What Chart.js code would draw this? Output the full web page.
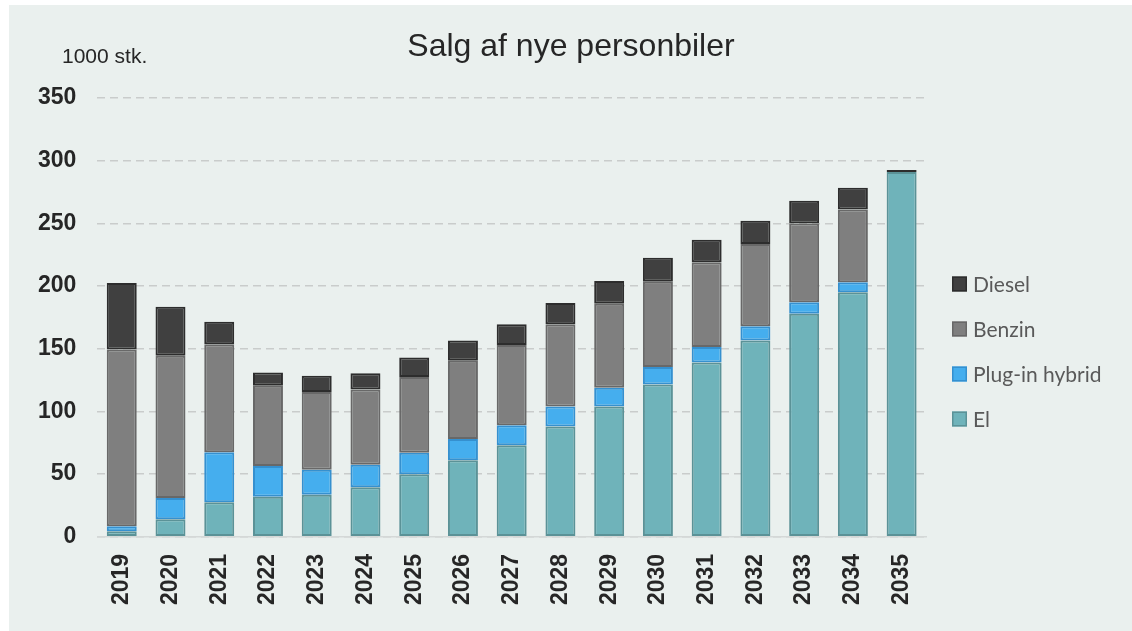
<!DOCTYPE html>
<html lang="da">
<head>
<meta charset="utf-8">
<title>Salg af nye personbiler</title>
<script src="https://cdn.jsdelivr.net/npm/chart.js@4.4.1/dist/chart.umd.min.js"></script>
<style>
    html, body { margin: 0; padding: 0; background: #ffffff; }
    .chart-wrap { position: relative; width: 1132px; height: 631px; }
</style>
</head>
<body>
<div class="chart-wrap">
    <canvas id="salesChart"></canvas>
</div>
<script>
// Data (1000 stk.)
const years = ['2019', '2020', '2021', '2022', '2023', '2024', '2025', '2026', '2027',
    '2028', '2029', '2030', '2031', '2032', '2033', '2034', '2035'];
const el = [4.5, 14, 27.5, 32, 33.5, 39.5, 50, 61, 73, 88, 104, 121.5, 139, 156.5, 178, 195, 291];
const plugInHybrid = [4, 17, 40, 24.5, 20, 18, 17, 17, 16, 16, 15, 14, 12.5, 11.5, 9, 8, 0];
const benzin = [141, 113.5, 86, 64, 62, 60, 60.5, 62.5, 64, 65.5, 67, 68, 67.5, 65.5, 63, 58, 0];
const diesel = [53, 39, 18, 10.5, 13, 13, 15.5, 16, 16.5, 17, 18, 19, 18, 18.5, 18, 17.5, 1.5];
const yTicks = [0, 50, 100, 150, 200, 250, 300, 350];

const unitLabel = '1000 stk.';
const chartTitle = 'Salg af nye personbiler';

document.addEventListener('DOMContentLoaded', () => {
    Chart.defaults.font.family = "'Liberation Sans', Arial, sans-serif";
    Chart.defaults.color = '#262626';

    // Light panel behind the whole chart
    const panelBackground = {
        id: 'panelBackground',
        beforeDraw(chart) {
            const ctx = chart.ctx;
            ctx.save();
            ctx.fillStyle = '#EAF0EE';
            ctx.fillRect(9, 5, chart.width - 9, chart.height - 5);
            ctx.restore();
        }
    };

    // Title, unit label and legend on the right (Diesel first)
    const extras = {
        id: 'extras',
        afterDraw(chart) {
            const ctx = chart.ctx;
            const area = chart.chartArea;
            ctx.save();
            ctx.fillStyle = '#262626';
            ctx.textBaseline = 'alphabetic';
            ctx.textAlign = 'center';
            ctx.font = "32px 'Liberation Sans', Arial, sans-serif";
            ctx.fillText(chartTitle, 571, 56);

            ctx.textAlign = 'left';
            ctx.font = "21px 'Liberation Sans', Arial, sans-serif";
            ctx.fillText(unitLabel, 62, 63);

            const items = chart.data.datasets.slice().reverse();
            ctx.font = "21px Lato, 'Open Sans', sans-serif";
            ctx.textBaseline = 'middle';
            items.forEach((ds, i) => {
                const x = area.right + 26;
                const y = area.top + 186 + i * 45;
                ctx.fillStyle = ds.backgroundColor;
                ctx.fillRect(x, y - 7.5, 15, 15);
                ctx.strokeStyle = ds.borderColor;
                ctx.lineWidth = 1.5;
                ctx.strokeRect(x + 0.75, y - 6.75, 13.5, 13.5);
                ctx.fillStyle = '#595959';
                ctx.fillText(ds.label, x + 21, y + 1);
            });
            ctx.restore();
        }
    };

    const barStyle = {
        borderWidth: 2,
        borderSkipped: false,
        barPercentage: 0.615,
        categoryPercentage: 1
    };

    new Chart(document.getElementById('salesChart'), {
        type: 'bar',
        data: {
            labels: years,
            datasets: [
                { label: 'El', data: el, backgroundColor: '#6FB3BA', borderColor: '#5B9297', ...barStyle },
                { label: 'Plug-in hybrid', data: plugInHybrid, backgroundColor: '#45AEEE', borderColor: '#3590CF', ...barStyle },
                { label: 'Benzin', data: benzin, backgroundColor: '#7F7F7F', borderColor: '#686868', ...barStyle },
                { label: 'Diesel', data: diesel, backgroundColor: '#404040', borderColor: '#2D2D2D', ...barStyle }
            ]
        },
        options: {
            responsive: true,
            maintainAspectRatio: false,
            animation: false,
            layout: {
                padding: { left: 17, right: 206, top: 98, bottom: 9 }
            },
            plugins: {
                legend: { display: false },
                tooltip: { enabled: false },
                title: { display: false }
            },
            scales: {
                x: {
                    stacked: true,
                    grid: { display: false, drawTicks: false },
                    border: { display: true, color: '#D4D8D7', width: 1.5 },
                    ticks: {
                        color: '#262626',
                        font: { size: 23, weight: 'bold' },
                        minRotation: 90,
                        maxRotation: 90,
                        padding: 17,
                        autoSkip: false
                    }
                },
                y: {
                    stacked: true,
                    min: 0,
                    max: 350,
                    afterBuildTicks: axis => {
                        axis.ticks = yTicks.map(v => ({ value: v }));
                    },
                    grid: {
                        drawTicks: false,
                        color: '#C9CCCB',
                        lineWidth: 1.5
                    },
                    border: {
                        display: false,
                        dash: [8, 5]
                    },
                    ticks: {
                        color: '#262626',
                        font: { size: 23, weight: 'bold' },
                        padding: 21
                    }
                }
            }
        },
        plugins: [panelBackground, extras]
    });
});
</script>
</body>
</html>
